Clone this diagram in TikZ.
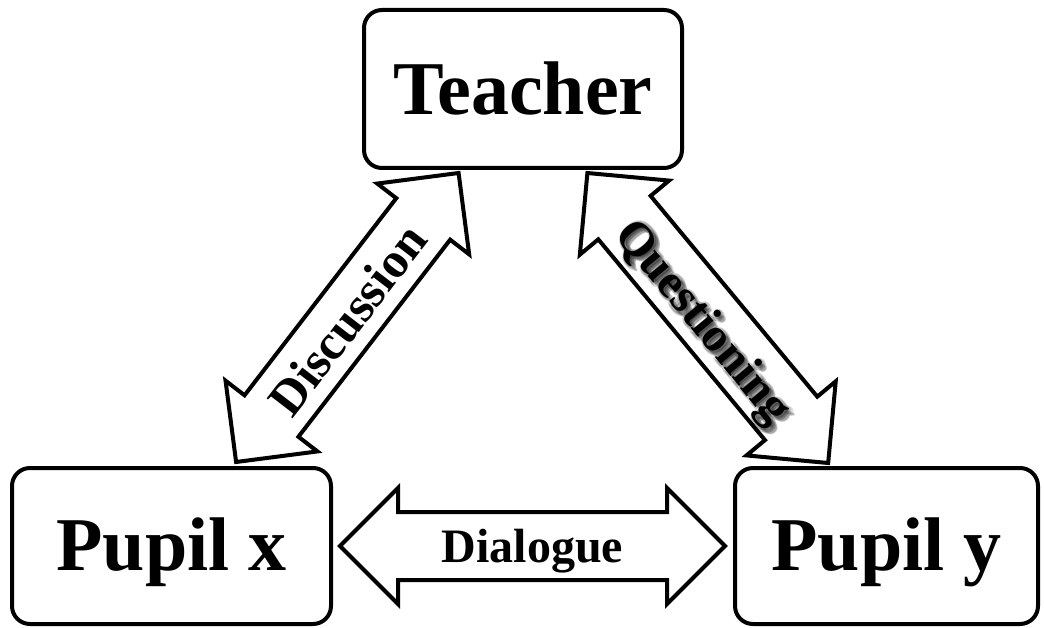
\documentclass[tikz,border=0pt]{standalone}
\usepackage{fontspec}
\setmainfont{Liberation Serif}
\usetikzlibrary{shapes.arrows,calc}

\tikzset{
  box/.style={draw, line width=4pt, rounded corners=18pt, inner sep=0pt,
    font=\bfseries\fontsize{76}{80}\selectfont},
  blockarrow/.style={double arrow, draw, line width=4pt, fill=white,
    double arrow tip angle=90, double arrow head extend=24pt,
    inner xsep=0pt, inner ysep=32pt},
  arrowlabel/.style={inner sep=0pt, font=\bfseries\fontsize{50}{50}\selectfont},
  smalllabel/.style={inner sep=0pt, text depth=0pt, font=\bfseries\fontsize{48}{48}\selectfont},
  glowcopy/.style={smalllabel, text=black, opacity=0.13},
}

\begin{document}
\begin{tikzpicture}[x=1pt, y=-1pt, line join=miter]
  \useasboundingbox (0,0) rectangle (1044,628);

  % the three participants
  \node[box, minimum width=318pt, minimum height=158pt] (teacher) at (523,89) {Teacher};
  \node[box, minimum width=319pt, minimum height=156pt, text height=54pt, text depth=6pt]
    (px) at (171.5,546) {Pupil x};
  \node[box, minimum width=303pt, minimum height=156pt, text height=54pt, text depth=6pt]
    (py) at (886.5,546) {Pupil y};

  % end points of the block arrows
  \coordinate (d1) at ($(px.north west)!0.70!(px.north east)+(0,-4)$);
  \coordinate (d2) at ($(teacher.south west)!0.30!(teacher.south east)+(0,3)$);
  \coordinate (q1) at ($(teacher.south west)!0.70!(teacher.south east)+(0,3)$);
  \coordinate (q2) at ($(py.north west)!0.31!(py.north east)+(0,-3)$);
  \coordinate (l1) at ($(px.east)+(7,0)$);
  \coordinate (l2) at ($(py.west)+(-8,0)$);

  % Discussion: pupil x <-> teacher
  \path let \p1=(d1), \p2=(d2), \n1={atan2(\y2-\y1,\x2-\x1)},
    \n2={veclen(\x2-\x1,\y2-\y1)} in
    node[blockarrow, rotate=\n1, minimum height=\n2] (disc) at ($(\p1)!0.5!(\p2)$) {}
    \pgfextra{\xdef\discangle{\n1}};
  \node[arrowlabel, rotate=\discangle] (dlab) at ($(d1)!0.5!(d2)+(0,2)$) {Discussion};

  % Questioning: teacher <-> pupil y, with a soft shadow behind the word
  \path let \p1=(q1), \p2=(q2), \n1={atan2(\y2-\y1,\x2-\x1)},
    \n2={veclen(\x2-\x1,\y2-\y1)} in
    node[blockarrow, rotate=\n1, minimum height=\n2] (quest) at ($(\p1)!0.5!(\p2)$) {}
    \pgfextra{\xdef\questangle{\n1}};
  \coordinate (qm) at ($(q1)!0.5!(q2)+(-2,2)$);
  \foreach \dx/\dy in {0/0,3/0,-3/0,0/3,0/-3,2/2,-2/2,2/-2,-2/-2,4/4,3/4,4/3}
    \node[glowcopy, rotate=\questangle] at ($(qm)+(\dx+1.5,\dy+1.5)$) {Questioning};
  \node[smalllabel, rotate=\questangle] (qlab) at (qm) {Questioning};

  % Dialogue: pupil x <-> pupil y
  \path let \p1=(l1), \p2=(l2), \n2={veclen(\x2-\x1,\y2-\y1)} in
    node[blockarrow, minimum height=\n2] (dial) at ($(\p1)!0.5!(\p2)$) {};
  \node[smalllabel] (llab) at (dial.center) {Dialogue};
\end{tikzpicture}
\end{document}
